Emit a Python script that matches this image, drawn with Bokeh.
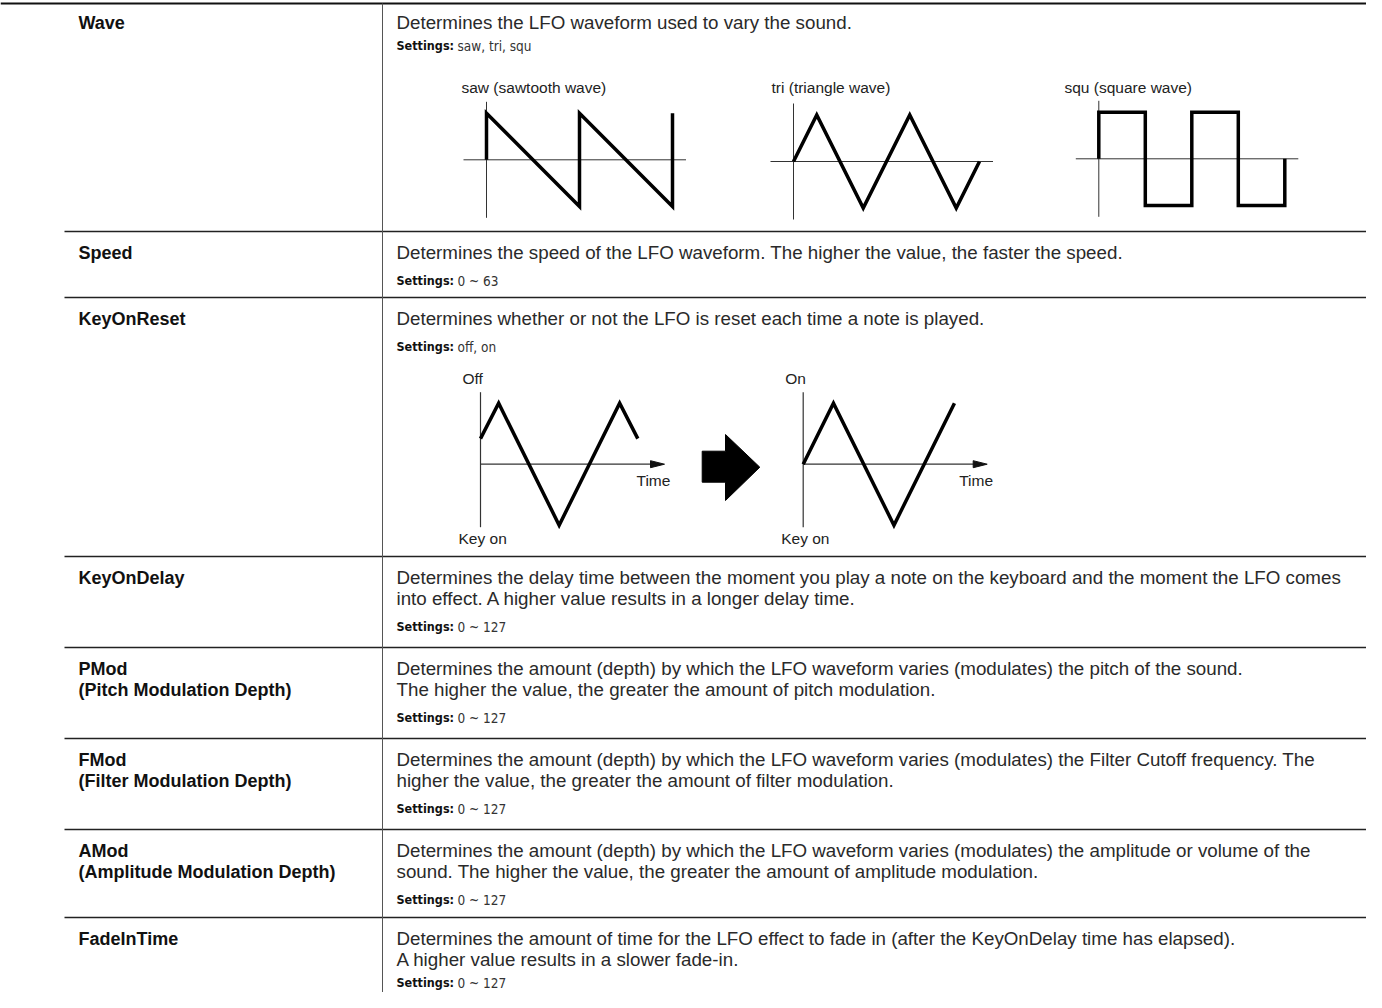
from bokeh.plotting import figure
from bokeh.models import Range1d
from bokeh.embed import file_html
from bokeh.resources import INLINE
from bokeh.core.properties import value

# ---------------- data ----------------
param_names = [
    ["Wave"],
    ["Speed"],
    ["KeyOnReset"],
    ["KeyOnDelay"],
    ["PMod", "(Pitch Modulation Depth)"],
    ["FMod", "(Filter Modulation Depth)"],
    ["AMod", "(Amplitude Modulation Depth)"],
    ["FadeInTime"],
]
descriptions = [
    ["Determines the LFO waveform used to vary the sound."],
    ["Determines the speed of the LFO waveform. The higher the value, the faster the speed."],
    ["Determines whether or not the LFO is reset each time a note is played."],
    ["Determines the delay time between the moment you play a note on the keyboard and the moment the LFO comes",
     "into effect. A higher value results in a longer delay time."],
    ["Determines the amount (depth) by which the LFO waveform varies (modulates) the pitch of the sound.",
     "The higher the value, the greater the amount of pitch modulation."],
    ["Determines the amount (depth) by which the LFO waveform varies (modulates) the Filter Cutoff frequency. The",
     "higher the value, the greater the amount of filter modulation."],
    ["Determines the amount (depth) by which the LFO waveform varies (modulates) the amplitude or volume of the",
     "sound. The higher the value, the greater the amount of amplitude modulation."],
    ["Determines the amount of time for the LFO effect to fade in (after the KeyOnDelay time has elapsed).",
     "A higher value results in a slower fade-in."],
]
settings_label = "Settings:"
settings_values = ["saw, tri, squ", "0 ~ 63", "off, on", "0 ~ 127", "0 ~ 127", "0 ~ 127", "0 ~ 127", "0 ~ 127"]

# waveforms: time in periods, value in amplitude units
saw_t = [0, 0, 1, 1, 2, 2]
saw_v = [0, 1, -1, 1, -1, 1]
tri_t = [0, 0.25, 0.75, 1.25, 1.75, 2.0]
tri_v = [0, 1, -1, 1, -1, 0]
squ_t = [0, 0, 0.5, 0.5, 1, 1, 1.5, 1.5, 2, 2]
squ_v = [0, 1, 1, -1, -1, 1, 1, -1, -1, 0]
wave_titles = ["saw (sawtooth wave)", "tri (triangle wave)", "squ (square wave)"]

off_t = [0, 0.15, 0.65, 1.15, 1.30]
off_v = [0.42, 1, -1, 1, 0.42]
on_t = [0, 0.25, 0.75, 1.25]
on_v = [0, 1, -1, 1]
reset_titles = ["Off", "On"]
axis_x_label = "Time"
axis_y_label = "Key on"

# ---------------- layout ----------------
W, H = 1366, 992
p = figure(width=W, height=H, x_range=Range1d(0, W), y_range=Range1d(H, 0),
           output_backend="svg", toolbar_location=None,
           x_axis_location=None, y_axis_location=None, min_border=0)
p.grid.visible = False
p.outline_line_color = None

FONT = value("Liberation Sans")
COND = value("DejaVu Sans Condensed")

row_tops = [3, 231, 297, 556, 647, 738, 829, 917]
settings_gap = [23, 28, 28, 28, 28, 28, 28, 23]
LABEL_X = 78
DESC_X = 396
DIV_X = 382
LINE_GAP = 21

# table lines
p.line([0, 1372], [3, 3], line_color="#111111", line_width=2)
xs, ys = [], []
for t in row_tops[1:]:
    xs.append([64, 1372]); ys.append([t, t])
p.multi_line(xs, ys, line_color="#222222", line_width=1.5)
p.line([DIV_X, DIV_X], [3, 1008], line_color="#555555", line_width=1)

# texts
lx, ly, lt = [], [], []
dx, dy, dt = [], [], []
sx, sy, vx, vy, vt = [], [], [], [], []
for i, top in enumerate(row_tops):
    first = (top if i > 0 else 1) + 21
    for k, s in enumerate(param_names[i]):
        lx.append(LABEL_X); ly.append(first + k * LINE_GAP); lt.append(s)
    for k, s in enumerate(descriptions[i]):
        dx.append(DESC_X); dy.append(first + k * LINE_GAP); dt.append(s)
    last = first + (len(descriptions[i]) - 1) * LINE_GAP
    sy_i = last + settings_gap[i]
    sx.append(DESC_X); sy.append(sy_i)
    vx.append(DESC_X + 61); vy.append(sy_i); vt.append(settings_values[i])

p.text(lx, ly, text=lt, text_font=FONT, text_font_style="bold", text_font_size="18px",
       text_color="#111111", text_baseline="middle", text_align="left")
p.text(dx, dy, text=dt, text_font=FONT, text_font_size="18.75px",
       text_color="#2a2a2a", text_baseline="middle", text_align="left")
p.text(sx, sy, text=[settings_label] * len(sx), text_font=COND, text_font_style="bold",
       text_font_size="12.5px", text_color="#111111", text_baseline="middle", text_align="left")
p.text(vx, vy, text=vt, text_font=COND, text_font_size="13.5px",
       text_color="#333333", text_baseline="middle", text_align="left")

# ---- Wave diagrams ----
PERIOD_W, AMP_W = 93, 46.6
wave_origins = [(486, 159.3), (793, 161), (1098.3, 158.3)]
wave_data = [(saw_t, saw_v), (tri_t, tri_v), (squ_t, squ_v)]
title_x = [461, 771, 1064]
for (ox, oy), (tt, vv), tx, title in zip(wave_origins, wave_data, title_x, wave_titles):
    p.line([ox - 23, ox + 199.5], [oy, oy], line_color="#333333", line_width=1)
    p.line([ox, ox], [oy - 58, oy + 58], line_color="#333333", line_width=1)
    p.line([ox + t * PERIOD_W for t in tt], [oy - v * AMP_W for v in vv],
           line_color="#000000", line_width=3.5, line_join="miter")
    p.text([tx], [87], text=[title], text_font=FONT, text_font_size="15.5px",
           text_color="#222222", text_baseline="middle", text_align="left")

# ---- KeyOnReset diagrams ----
PERIOD_R, AMP_R = 121, 61
reset_origins = [(480, 463.7), (802.7, 463.7)]
reset_data = [(off_t, off_v), (on_t, on_v)]
for (ox, oy), (tt, vv), title in zip(reset_origins, reset_data, reset_titles):
    p.line([ox, ox], [oy - 72, oy + 63], line_color="#333333", line_width=1.2)
    p.line([ox, ox + 172], [oy, oy], line_color="#333333", line_width=1.2)
    tip = ox + 184
    p.patch([tip, tip - 14, tip - 14], [oy, oy - 3.5, oy + 3.5], color="#111111")
    p.line([ox + t * PERIOD_R for t in tt], [oy - v * AMP_R for v in vv],
           line_color="#000000", line_width=3.5, line_join="miter")
    p.text([ox - 18], [oy - 86], text=[title], text_font=FONT, text_font_size="15.5px",
           text_color="#222222", text_baseline="middle", text_align="left")
    p.text([ox + 156], [oy + 16.5], text=[axis_x_label], text_font=FONT, text_font_size="15.5px",
           text_color="#222222", text_baseline="middle", text_align="left")
    p.text([ox - 22], [oy + 74.5], text=[axis_y_label], text_font=FONT, text_font_size="15.5px",
           text_color="#222222", text_baseline="middle", text_align="left")

# big block arrow between the two diagrams
ax, ay = 701.7, 466.7
p.patch([ax, ax + 23.3, ax + 23.3, ax + 57.6, ax + 23.3, ax + 23.3, ax],
        [ay - 16, ay - 16, ay - 32.7, ay, ay + 33.3, ay + 15, ay + 15],
        color="#000000")

open("out.html", "w").write(file_html(p, INLINE))
